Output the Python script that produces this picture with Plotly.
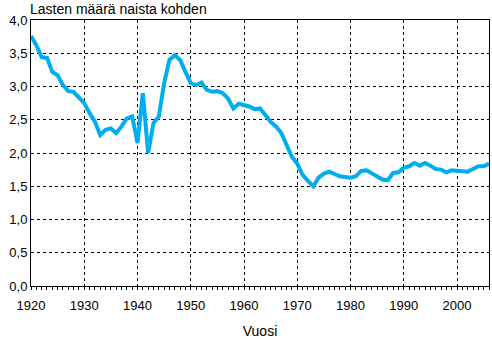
import plotly.graph_objects as go

years = list(range(1920, 2007))
tfr = [3.76, 3.62, 3.44, 3.43, 3.22, 3.17, 3.02, 2.93, 2.92, 2.84,
       2.75, 2.60, 2.47, 2.27, 2.35, 2.37, 2.30, 2.40, 2.52, 2.55,
       2.15, 2.90, 2.00, 2.45, 2.55, 3.05, 3.40, 3.47, 3.40, 3.22,
       3.05, 3.02, 3.06, 2.95, 2.92, 2.93, 2.90, 2.82, 2.67, 2.74,
       2.72, 2.70, 2.66, 2.67, 2.57, 2.47, 2.40, 2.30, 2.12, 1.94,
       1.84, 1.67, 1.58, 1.50, 1.63, 1.69, 1.72, 1.69, 1.65, 1.64,
       1.63, 1.65, 1.73, 1.74, 1.69, 1.64, 1.60, 1.59, 1.70, 1.71,
       1.78, 1.80, 1.85, 1.81, 1.85, 1.81, 1.76, 1.75, 1.71, 1.74,
       1.73, 1.73, 1.72, 1.76, 1.80, 1.80, 1.84]

y_ticks = [0, 0.5, 1.0, 1.5, 2.0, 2.5, 3.0, 3.5, 4.0]
y_labels = ["0,0", "0,5", "1,0", "1,5", "2,0", "2,5", "3,0", "3,5", "4,0"]
x_ticks = list(range(1920, 2001, 10))

fig = go.Figure()
fig.add_trace(go.Scatter(x=years, y=tfr, mode="lines",
                         line=dict(color="#00AEEF", width=4)))

font = dict(family="Liberation Sans, Arial, sans-serif", size=13, color="black")

fig.update_layout(
    width=492, height=340,
    margin=dict(l=31, r=3, t=20, b=54),
    paper_bgcolor="white", plot_bgcolor="white",
    showlegend=False,
    font=font,
    title=dict(text="Lasten määrä naista kohden", x=30/492, xanchor="left",
               y=1 - 9/340, yanchor="middle", font=dict(size=14, color="black",
               family="Liberation Sans, Arial, sans-serif")),
    xaxis=dict(range=[1920, 2006], tickvals=x_ticks, ticktext=[str(v) for v in x_ticks],
               showgrid=True, gridcolor="black", gridwidth=1, griddash="3px,3px",
               showline=True, linecolor="black", linewidth=1, mirror=True,
               ticks="outside", ticklen=3, tickcolor="black",
               ticklabelstandoff=4,
               minor=dict(dtick=1, tick0=1920, ticks="outside", ticklen=3,
                          tickcolor="black", showgrid=False),
               zeroline=False, tickfont=dict(size=13),
               title=dict(text="Vuosi", font=dict(size=14), standoff=14)),
    yaxis=dict(range=[0, 4.0], tickvals=y_ticks, ticktext=y_labels,
               showgrid=True, gridcolor="black", gridwidth=1, griddash="3px,3px",
               showline=True, linecolor="black", linewidth=1, mirror=True,
               ticks="", zeroline=False, tickfont=dict(size=13)),
)

fig.write_html("out.html")
